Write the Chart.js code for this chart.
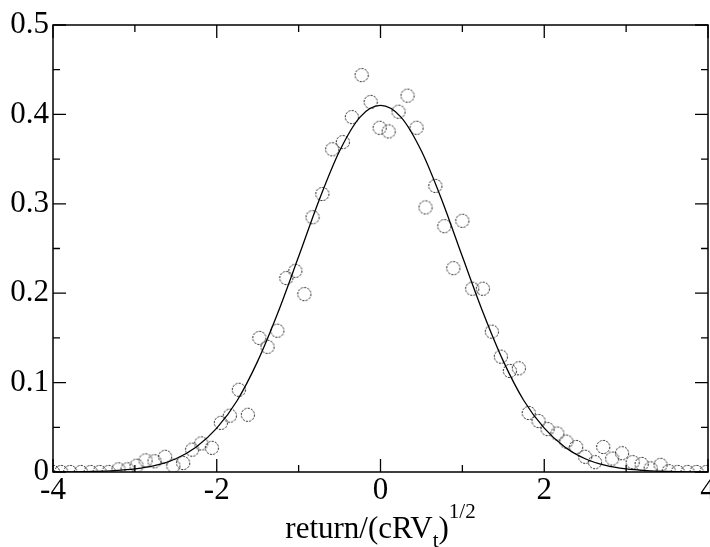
<!DOCTYPE html>
<html>
<head>
<meta charset="utf-8">
<script src="https://cdn.jsdelivr.net/npm/chart.js@4.4.1/dist/chart.umd.min.js"></script>
<style>
  html, body { margin: 0; padding: 0; background: #fff; }
</style>
</head>
<body>
<canvas id="distChart" width="710" height="547"></canvas>
<script>
// empirical density (circles)
const obsX = [
  -4.00, -3.90, -3.79, -3.66, -3.54, -3.43, -3.32, -3.20, -3.09, -2.98,
  -2.87, -2.76, -2.63, -2.53, -2.41, -2.30, -2.19, -2.06, -1.95, -1.84,
  -1.73, -1.62, -1.48, -1.38, -1.26, -1.15, -1.04, -0.93, -0.83, -0.71,
  -0.59, -0.46, -0.35, -0.23, -0.12, -0.01, 0.10, 0.22, 0.33, 0.44,
  0.55, 0.67, 0.78, 0.89, 1.00, 1.12, 1.25, 1.36, 1.47, 1.58,
  1.69, 1.81, 1.93, 2.04, 2.16, 2.27, 2.39, 2.50, 2.62, 2.72,
  2.83, 2.95, 3.08, 3.19, 3.30, 3.42, 3.52, 3.63, 3.75, 3.86, 3.98
];
const obsY = [
  0, 0, 0, 0, 0, 0, 0, 0.003, 0.003, 0.007,
  0.013, 0.012, 0.017, 0.007, 0.010, 0.025, 0.032, 0.027, 0.055, 0.063,
  0.092, 0.064, 0.150, 0.140, 0.158, 0.217, 0.225, 0.199, 0.285, 0.311,
  0.361, 0.369, 0.397, 0.444, 0.414, 0.385, 0.381, 0.403, 0.421, 0.385,
  0.296, 0.320, 0.275, 0.228, 0.281, 0.205, 0.205, 0.157, 0.129, 0.113,
  0.116, 0.066, 0.057, 0.048, 0.043, 0.034, 0.028, 0.017, 0.011, 0.028,
  0.015, 0.021, 0.011, 0.009, 0.004, 0.008, 0.001, 0, 0, 0, 0
];

// fitted curve (solid line)
const fitX = [
  -4, -3.75, -3.5, -3.25, -3, -2.75, -2.5, -2.25, -2, -1.75, -1.5, -1.25, -1, -0.75, -0.5, -0.25,
  0, 0.25, 0.5, 0.75, 1, 1.25, 1.5, 1.75, 2, 2.25, 2.5, 2.75, 3, 3.25, 3.5, 3.75, 4
];
const fitY = [
  0.0001, 0.0002, 0.0006, 0.0015, 0.0034, 0.0073, 0.0148, 0.028, 0.049, 0.080, 0.124, 0.179, 0.241, 0.304, 0.359, 0.397,
  0.410, 0.397, 0.359, 0.304, 0.241, 0.179, 0.124, 0.080, 0.049, 0.028, 0.0148, 0.0073, 0.0034, 0.0015, 0.0006, 0.0002, 0.0001
];

const xMajorTicks = [-4, -2, 0, 2, 4];
const xMinorTicks = [-3, -1, 1, 3];
const yMajorTicks = [0, 0.1, 0.2, 0.3, 0.4, 0.5];
const yMinorTicks = [0.05, 0.15, 0.25, 0.35, 0.45];

const SERIF = '"Liberation Serif", "DejaVu Serif", serif';

// scanned-looking dashed circle marker
function makeCircleMarker() {
  const c = document.createElement("canvas");
  c.width = 16;
  c.height = 16;
  const g = c.getContext("2d");
  g.strokeStyle = "#2a2a2a";
  g.lineWidth = 1;
  g.setLineDash([2.2, 1.2]);
  g.beginPath();
  g.arc(8, 8, 6.6, 0, Math.PI * 2);
  g.stroke();
  return c;
}

// inward ticks on all four sides + frame, and the x-axis title
const frameTicks = {
  id: "frameTicks",
  afterDatasetsDraw(chart) {
    const { ctx, chartArea: a, scales } = chart;
    const xs = scales.x, ys = scales.y;
    ctx.save();
    ctx.strokeStyle = "#000";
    ctx.lineWidth = 1.5;
    ctx.strokeRect(a.left, a.top, a.right - a.left, a.bottom - a.top);
    ctx.lineWidth = 1.3;
    const tick = (vals, len, isX) => {
      vals.forEach((v) => {
        ctx.beginPath();
        if (isX) {
          const px = xs.getPixelForValue(v);
          ctx.moveTo(px, a.bottom); ctx.lineTo(px, a.bottom - len);
          ctx.moveTo(px, a.top); ctx.lineTo(px, a.top + len);
        } else {
          const py = ys.getPixelForValue(v);
          ctx.moveTo(a.left, py); ctx.lineTo(a.left + len, py);
          ctx.moveTo(a.right, py); ctx.lineTo(a.right - len, py);
        }
        ctx.stroke();
      });
    };
    tick(xMajorTicks, 13, true);
    tick(xMinorTicks, 7, true);
    tick(yMajorTicks, 13, false);
    tick(yMinorTicks, 7, false);
    ctx.restore();
  },
  afterDraw(chart) {
    // return/(cRV_t)^{1/2}
    const { ctx, chartArea: a } = chart;
    const big = "31px " + SERIF;
    const small = "21px " + SERIF;
    const parts = [
      { t: "return/(cRV", f: big, dy: 0 },
      { t: "t", f: small, dy: 9 },
      { t: ")", f: big, dy: 0 },
      { t: "1/2", f: small, dy: -20 },
    ];
    ctx.save();
    ctx.fillStyle = "#000";
    ctx.textBaseline = "alphabetic";
    ctx.textAlign = "left";
    let total = 0;
    parts.forEach((p) => { ctx.font = p.f; p.w = ctx.measureText(p.t).width; total += p.w; });
    let x = (a.left + a.right) / 2 - total / 2;
    const base = 538;
    parts.forEach((p) => {
      ctx.font = p.f;
      ctx.fillText(p.t, x, base + p.dy);
      x += p.w;
    });
    ctx.restore();
  },
};

const points = obsX.map((x, i) => ({ x, y: obsY[i] }));
const curve = fitX.map((x, i) => ({ x, y: fitY[i] }));

new Chart(document.getElementById("distChart"), {
  type: "scatter",
  data: {
    datasets: [
      {
        label: "fit",
        data: curve,
        showLine: true,
        borderColor: "#000",
        borderWidth: 1.3,
        pointRadius: 0,
        cubicInterpolationMode: "monotone",
        fill: false,
      },
      {
        label: "data",
        data: points,
        pointStyle: makeCircleMarker(),
        pointRadius: 7,
        showLine: false,
      },
    ],
  },
  options: {
    responsive: false,
    animation: false,
    layout: { autoPadding: false, padding: { top: 25, right: 2, left: 0, bottom: 0 } },
    plugins: {
      legend: { display: false },
      tooltip: { enabled: false },
    },
    scales: {
      x: {
        type: "linear",
        min: -4,
        max: 4,
        afterBuildTicks: (s) => { s.ticks = xMajorTicks.map((v) => ({ value: v })); },
        afterFit: (s) => { s.height = 75; s.paddingLeft = 0; s.paddingRight = 0; },
        ticks: {
          color: "#000",
          font: { family: SERIF, size: 31 },
          padding: 0,
          maxRotation: 0,
          autoSkip: false,
        },
        grid: { display: false, drawTicks: false },
        border: { display: false },
      },
      y: {
        min: 0,
        max: 0.5,
        afterBuildTicks: (s) => { s.ticks = yMajorTicks.map((v) => ({ value: v })); },
        afterFit: (s) => { s.width = 53; s.paddingTop = 0; s.paddingBottom = 0; },
        ticks: {
          color: "#000",
          font: { family: SERIF, size: 31 },
          padding: 4,
          callback: (v) => (v === 0 ? "0" : v.toFixed(1)),
        },
        grid: { display: false, drawTicks: false },
        border: { display: false },
      },
    },
  },
  plugins: [frameTicks],
});
</script>
</body>
</html>
